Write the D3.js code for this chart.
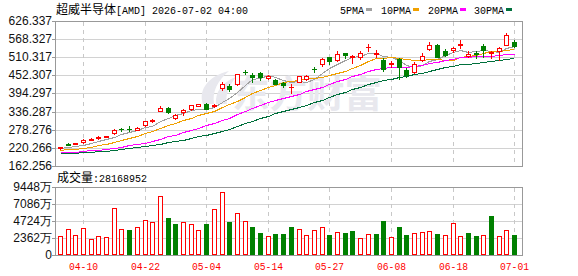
<!DOCTYPE html>
<html><head><meta charset="utf-8">
<script src="https://cdn.jsdelivr.net/npm/d3@7"></script>
<style>body{margin:0;background:#fff}svg{display:block}</style>
</head><body>
<svg id="c" width="578" height="276"></svg>
<script>
// ---------- data ----------
const dates = ["04-07","04-08","04-09","04-10","04-13","04-14","04-15","04-16","04-17","04-20",
"04-21","04-22","04-23","04-24","04-27","04-28","04-29","04-30","05-01","05-04",
"05-05","05-06","05-07","05-08","05-11","05-12","05-13","05-14","05-15","05-18",
"05-19","05-20","05-21","05-22","05-26","05-27","05-28","05-29","06-01","06-02",
"06-03","06-04","06-05","06-08","06-09","06-10","06-11","06-12","06-15","06-16",
"06-17","06-18","06-22","06-23","06-24","06-25","06-26","06-29","06-30","07-01"];
const open = [219.62,232.51,233.80,238.96,246.05,252.17,255.72,267.96,281.82,280.86,
278.92,293.75,306.96,338.87,347.57,314.37,335.64,343.38,355.62,360.46,
354.98,412.99,419.44,423.95,463.59,453.92,459.40,443.28,437.81,429.10,
413.63,432.33,441.03,473.26,488.40,509.67,502.26,523.85,510.96,510.96,
541.58,520.63,502.26,489.37,504.52,470.03,464.56,502.26,537.71,550.60,
531.27,532.23,548.99,515.15,523.21,547.38,523.85,529.01,550.60,560.27];
const high = [224.13,234.77,237.03,249.92,250.88,257.33,259.58,279.89,282.47,289.56,
286.33,306.64,312.12,354.98,351.76,328.23,344.34,357.24,360.46,362.71,
360.46,430.39,424.91,457.14,470.03,459.40,462.62,452.95,439.42,431.36,
424.91,450.70,452.31,480.67,506.45,510.96,529.01,524.82,518.38,529.01,
552.86,532.23,507.74,496.78,507.74,475.51,493.56,523.85,559.31,551.57,
536.75,543.19,564.46,529.01,531.27,553.83,531.27,543.19,588.31,566.72];
const low = [217.69,229.29,232.51,237.03,245.41,248.63,254.11,264.74,273.44,273.44,
276.67,289.56,302.45,336.93,332.42,311.15,325.01,342.09,354.66,343.38,
350.79,405.58,403.32,420.73,456.18,432.33,437.81,441.03,423.30,415.25,
396.88,431.36,437.81,464.56,483.89,488.40,496.78,507.74,492.59,504.52,
529.01,510.96,467.78,480.67,440.06,448.44,459.40,496.78,534.49,509.67,
512.90,525.79,539.97,510.96,507.74,510.96,507.74,500.01,548.35,543.19];
const close = [221.88,230.58,235.74,244.44,248.31,253.78,257.33,278.92,280.21,279.24,
285.37,305.67,308.89,348.53,334.68,325.01,340.16,356.27,359.81,345.31,
356.59,423.95,407.83,456.18,462.30,446.51,445.54,451.66,424.91,421.69,
415.89,449.73,450.70,471.65,505.48,496.78,520.63,518.38,514.19,523.85,
544.16,523.21,472.29,492.59,480.67,453.92,489.37,515.15,550.60,510.96,
516.12,539.97,552.22,521.60,520.63,534.49,526.43,539.97,582.83,545.13];
// volume in 万 shares
const volume = [2627,3549,2719,3687,2166,2627,2489,6591,3549,3457,
3825,4931,4517,8250,5116,4240,4517,4240,3410,4286,
6452,8803,4563,5899,4655,3871,3042,2627,2903,2903,
3871,3549,2719,3410,3825,2765,3134,2996,3318,2304,
2857,2903,4701,2443,3871,2765,2996,3134,3272,2903,
2719,4378,2581,3042,2627,2719,5392,2581,3410,2816.8952];
const ma5Head = [219.30,221.56,225.10,230.26];
const ma10Head = [213.18,215.11,217.37,220.59,224.13,228.32,232.84,239.60,246.37];
const ma20Head = [205.76,207.05,208.66,210.60,212.53,214.79,217.37,220.91,224.46,228.32,
232.51,237.35,242.50,249.92,256.68,262.81,269.58,277.31,285.05];
const ma30Head = [203.19,204.15,205.12,206.73,208.02,209.95,211.57,214.14,216.72,219.30,
222.20,225.42,228.97,233.80,238.31,242.50,247.02,252.17,257.33,262.16,
267.32,274.73,281.50,289.88,298.58,306.63,314.69,323.07,330.49];
const priceTicks = [162.256,220.266,278.276,336.287,394.297,452.307,510.317,568.327,626.337];
const volTicks = [0,2362,4724,7086,9448];
const xTickDates = ["04-10","04-22","05-04","05-14","05-27","06-08","06-18","07-01"];
const maNames = ["5PMA","10PMA","20PMA","30PMA"];
const maColors = ["#a0a0a0","#f0a000","#ff00ff","#00703c"];
const stockName = "超威半导体";
const stockCode = "[AMD] 2026-07-02 04:00";

// ---------- setup ----------
const RED = "#ff0000", GREEN = "#008000", GRID = "#d2d2d2", BORDER = "#999";
const svg = d3.select("#c");
const L = 55, R = 522, T = 21, B = 166, VT = 187, VB = 255;
const x = d3.scaleBand().domain(dates).range([56, 518]);
const cx = d => Math.round(x(d) + x.bandwidth() / 2);
const y = d3.scaleLinear().domain([priceTicks[0], priceTicks[priceTicks.length - 1]]).range([B, T]);
const yv = d3.scaleLinear().domain([0, volTicks[volTicks.length - 1]]).range([VB, VT]);

const ma = (n, head) => close.map((c, i) => i < n - 1 ? head[i] : d3.mean(close.slice(i - n + 1, i + 1)));
const maSeries = [ma(5, ma5Head), ma(10, ma10Head), ma(20, ma20Head), ma(30, ma30Head)];

const crisp = svg.append("g").attr("shape-rendering", "crispEdges");

// grids
priceTicks.slice(1, -1).forEach(t => {
  const yy = Math.round(y(t)) + 0.5;
  crisp.append("line").attr("x1", L).attr("x2", R).attr("y1", yy).attr("y2", yy).attr("stroke", GRID);
});
volTicks.slice(1, -1).forEach(t => {
  const yy = Math.round(yv(t)) + 0.5;
  crisp.append("line").attr("x1", L).attr("x2", R).attr("y1", yy).attr("y2", yy).attr("stroke", GRID);
});
xTickDates.forEach(d => {
  const xx = cx(d) + 0.5;
  crisp.append("line").attr("x1", xx).attr("x2", xx).attr("y1", T + 1).attr("y2", B).attr("stroke", "#c8c8c8").attr("stroke-dasharray", "4,4");
  crisp.append("line").attr("x1", xx).attr("x2", xx).attr("y1", VT + 1).attr("y2", VB).attr("stroke", "#c8c8c8").attr("stroke-dasharray", "4,4");
});

// watermark
const wm = svg.append("g").attr("fill", "#e8e8ee");
wm.append("path").attr("d", "M203,104 C198,90 208,76 229,71 C217,81 212,92 214,104 Z");
wm.append("path").attr("d", "M216,104 C215,92 222,82 236,77 C228,87 225,96 227,104 Z");
wm.append("text").attr("x", 232).attr("y", 108).attr("font-family", "'Noto Sans CJK SC'")
  .attr("font-weight", 700).attr("font-size", 37).attr("textLength", 150).attr("lengthAdjust", "spacingAndGlyphs")
  .text("东方财富");

// borders
crisp.append("rect").attr("x", L + 0.5).attr("y", T + 0.5).attr("width", R - L).attr("height", B - T)
  .attr("fill", "none").attr("stroke", BORDER);
crisp.append("rect").attr("x", L + 0.5).attr("y", VT + 0.5).attr("width", R - L).attr("height", VB - VT)
  .attr("fill", "none").attr("stroke", BORDER);

// y ticks & labels
const lab = svg.append("g").attr("font-family", "'Liberation Sans', Arial, sans-serif").attr("font-size", 12).attr("fill", "#111");
priceTicks.forEach(t => {
  const yy = Math.round(y(t));
  crisp.append("line").attr("x1", L - 3).attr("x2", L).attr("y1", yy + 0.5).attr("y2", yy + 0.5).attr("stroke", BORDER);
  lab.append("text").attr("x", 52).attr("y", yy + 3.5).attr("text-anchor", "end").text(d3.format(".3f")(t));
});
volTicks.forEach(t => {
  const yy = Math.round(yv(t));
  crisp.append("line").attr("x1", L - 3).attr("x2", L).attr("y1", yy + 0.5).attr("y2", yy + 0.5).attr("stroke", BORDER);
  lab.append("text").attr("x", 52).attr("y", yy + 4).attr("text-anchor", "end")
    .text(t === 0 ? "0" : t + "万");
});

// x labels
xTickDates.forEach(d => {
  svg.append("text").attr("x", cx(d) + 0.5).attr("y", 270).attr("text-anchor", "middle")
    .attr("font-family", "'Liberation Mono', monospace").attr("font-size", 11).attr("fill", RED)
    .attr("textLength", 29).attr("lengthAdjust", "spacingAndGlyphs").text(d);
});

// MA lines
maSeries.forEach((s, k) => {
  svg.append("path").datum(s)
    .attr("d", d3.line().x((v, i) => cx(dates[i]) + 0.5).y(v => Math.round(y(v)) + 0.5))
    .attr("fill", "none").attr("stroke", maColors[k]).attr("stroke-width", 1)
    .attr("shape-rendering", "crispEdges");
});

// candles
const cg = svg.append("g").attr("shape-rendering", "crispEdges");
dates.forEach((d, i) => {
  const o = open[i], c = close[i], h = high[i], l = low[i];
  const px = cx(d);
  const yTop = Math.round(y(Math.max(o, c))), yBot = Math.round(y(Math.min(o, c)));
  const yH = Math.round(y(h)), yL = Math.round(y(l));
  if (c >= o) {
    if (yTop > yH) cg.append("line").attr("x1", px + 0.5).attr("x2", px + 0.5).attr("y1", yH).attr("y2", yTop).attr("stroke", RED);
    if (yL > yBot) cg.append("line").attr("x1", px + 0.5).attr("x2", px + 0.5).attr("y1", yBot + 1).attr("y2", yL + 1).attr("stroke", RED);
    if (yBot - yTop >= 2) {
      cg.append("rect").attr("x", px - 1.5).attr("y", yTop + 0.5).attr("width", 4).attr("height", yBot - yTop)
        .attr("fill", "#fff").attr("stroke", RED);
    } else {
      cg.append("rect").attr("x", px - 2).attr("y", yTop).attr("width", 5).attr("height", yBot - yTop + 1).attr("fill", RED);
    }
  } else {
    cg.append("line").attr("x1", px + 0.5).attr("x2", px + 0.5).attr("y1", yH).attr("y2", yL + 1).attr("stroke", GREEN);
    cg.append("rect").attr("x", px - 2).attr("y", yTop).attr("width", 5).attr("height", yBot - yTop + 1).attr("fill", GREEN);
  }
});

// volume bars (colour by close vs previous close)
dates.forEach((d, i) => {
  const up = i === 0 ? close[0] >= open[0] : close[i] >= close[i - 1];
  const px = cx(d);
  const top = Math.round(yv(volume[i]));
  if (up) {
    cg.append("rect").attr("x", px - 1.5).attr("y", top + 0.5).attr("width", 4).attr("height", VB - 1 - top)
      .attr("fill", "#fff").attr("stroke", RED);
  } else {
    cg.append("rect").attr("x", px - 2).attr("y", top).attr("width", 5).attr("height", VB - top).attr("fill", GREEN);
  }
});

// header
svg.append("text").attr("x", 56).attr("y", 14).attr("font-family", "'Noto Sans CJK SC'").attr("font-size", 12)
  .attr("fill", "#000").text(stockName);
svg.append("text").attr("x", 116).attr("y", 14).attr("font-family", "'Liberation Mono', monospace").attr("font-size", 11.5)
  .attr("fill", "#000").attr("textLength", 132).attr("lengthAdjust", "spacingAndGlyphs").text(stockCode);

// legend
const legX = [340, 381, 428, 474];
maNames.forEach((n, k) => {
  const w = n.length * 6;
  svg.append("text").attr("x", legX[k]).attr("y", 14).attr("font-family", "'Liberation Mono', monospace")
    .attr("font-size", 11.5).attr("fill", "#000").attr("textLength", w).attr("lengthAdjust", "spacingAndGlyphs").text(n);
  crisp.append("rect").attr("x", legX[k] + w + 2).attr("y", 8).attr("width", 6).attr("height", 3).attr("fill", maColors[k]);
});

// volume title
svg.append("text").attr("x", 57).attr("y", 182).attr("font-family", "'Noto Sans CJK SC'").attr("font-size", 12)
  .attr("fill", "#000").text("成交量");
svg.append("text").attr("x", 93).attr("y", 182).attr("font-family", "'Liberation Mono', monospace").attr("font-size", 11.5)
  .attr("fill", "#000").attr("textLength", 54).attr("lengthAdjust", "spacingAndGlyphs")
  .text(":" + Math.round(volume[volume.length - 1] * 10000));
</script>
</body></html>
